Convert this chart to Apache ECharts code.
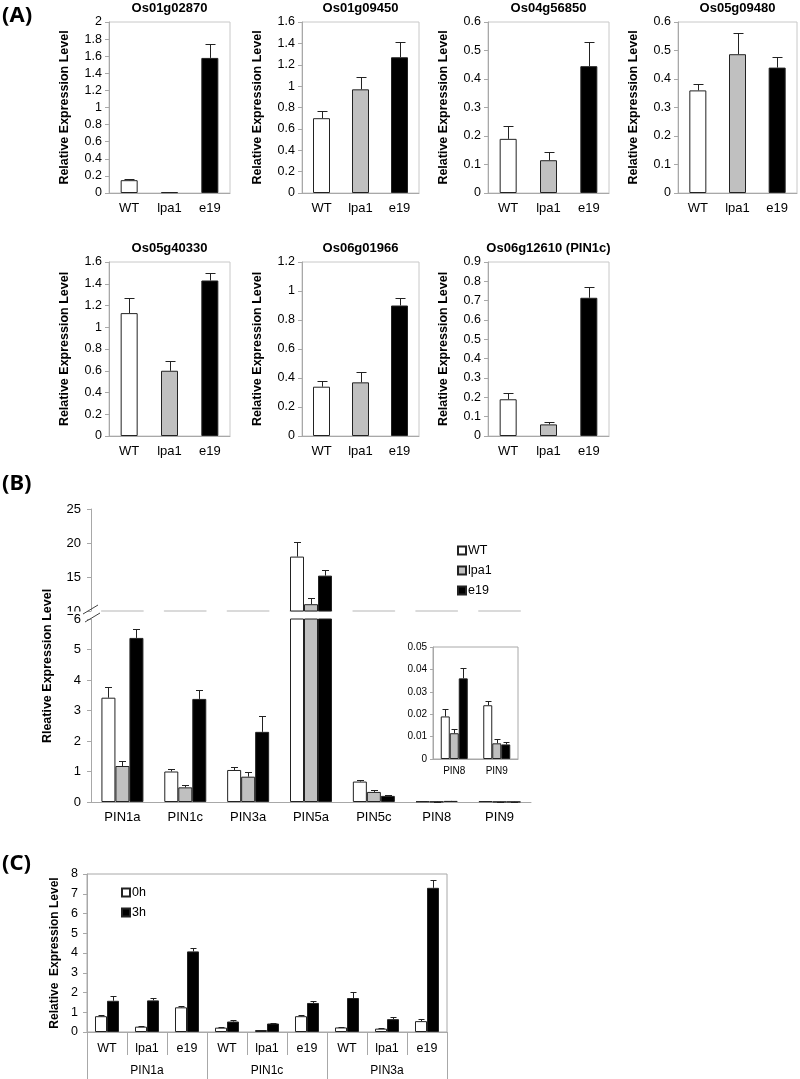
<!DOCTYPE html>
<html><head><meta charset="utf-8">
<script src="https://cdn.jsdelivr.net/npm/echarts@6/dist/echarts.min.js"></script>
<style>html,body{margin:0;padding:0;background:#fff}#c{width:800px;height:1079px}</style>
</head><body><div id="c"></div><script>
// ---------------- data ----------------
const lines = ['WT', 'lpa1', 'e19'];
const geneTitles = ['Os01g02870', 'Os01g09450', 'Os04g56850', 'Os05g09480', 'Os05g40330', 'Os06g01966', 'Os06g12610 (PIN1c)'];
const geneMean = [
  [0.15, 0.01, 1.58],
  [0.70, 0.97, 1.27],
  [0.19, 0.115, 0.445],
  [0.36, 0.487, 0.44],
  [1.13, 0.60, 1.43],
  [0.34, 0.37, 0.90],
  [0.19, 0.06, 0.715]
];
const geneErr = [
  [0.015, 0.005, 0.16],
  [0.07, 0.12, 0.14],
  [0.045, 0.03, 0.085],
  [0.023, 0.073, 0.037],
  [0.14, 0.09, 0.07],
  [0.04, 0.07, 0.055],
  [0.03, 0.012, 0.055]
];
const geneYMax = [2, 1.6, 0.6, 0.6, 1.6, 1.2, 0.9];
const geneYStep = [0.2, 0.2, 0.1, 0.1, 0.2, 0.2, 0.1];

const pins = ['PIN1a', 'PIN1c', 'PIN3a', 'PIN5a', 'PIN5c', 'PIN8', 'PIN9'];
const pinWT = [3.42, 1.00, 1.05, 18.0, 0.67, 0.019, 0.024];
const pinWTErr = [0.34, 0.08, 0.09, 2.2, 0.06, 0.0035, 0.0018];
const pinLpa1 = [1.18, 0.48, 0.83, 11.0, 0.33, 0.0115, 0.007];
const pinLpa1Err = [0.17, 0.08, 0.15, 0.9, 0.05, 0.002, 0.0018];
const pinE19 = [5.38, 3.38, 2.30, 15.2, 0.20, 0.036, 0.0065];
const pinE19Err = [0.28, 0.28, 0.52, 0.8, 0.015, 0.0045, 0.0013];
const insetFrom = 5; // PIN8, PIN9 shown in the inset

const hormoneGenes = ['PIN1a', 'PIN1c', 'PIN3a'];
const timeNames = ['0h', '3h'];
const h0 = [0.80, 0.27, 1.25, 0.22, 0.10, 0.80, 0.23, 0.17, 0.55];
const h0Err = [0.07, 0.03, 0.05, 0.03, 0.02, 0.05, 0.03, 0.03, 0.10];
const h3 = [1.58, 1.60, 4.08, 0.53, 0.43, 1.47, 1.72, 0.65, 7.30];
const h3Err = [0.22, 0.12, 0.19, 0.07, 0.03, 0.08, 0.31, 0.12, 0.40];

// ---------------- styles / layout ----------------
const FF = 'Liberation Sans, Arial, sans-serif';
const fills = ['#ffffff', '#c0c0c0', '#000000'];
const EDGE = '#222';
const AX = '#a8a8a8';
const grids = [], xAxes = [], yAxes = [], series = [], graphic = [];

function errSeries(xi, yi, means, errs, offset, cap, keep) {
  const data = [];
  means.forEach((m, i) => { if (keep(m)) data.push([i, m, errs[i]]); });
  return {
    type: 'custom', xAxisIndex: xi, yAxisIndex: yi, z: 5, silent: true,
    encode: { x: 0, y: 1 }, data,
    renderItem(params, api) {
      const c = api.value(0), v = api.value(1), e = api.value(2);
      const b = api.coord([c, v]), t = api.coord([c, v + e]);
      const x = Math.round(b[0] + offset) + 0.5;
      const ty = Math.round(t[1]) + 0.5;
      return { type: 'group', children: [
        { type: 'line', shape: { x1: x, y1: b[1], x2: x, y2: ty }, style: { stroke: '#222', lineWidth: 1 } },
        { type: 'line', shape: { x1: x - cap, y1: ty, x2: x + cap, y2: ty }, style: { stroke: '#222', lineWidth: 1 } }
      ] };
    }
  };
}

// ---------------- Panel A ----------------
const colLeft = [109, 302, 488, 678];
const colW = [121, 117, 121, 119];
const rowTop = [22, 262];
const rowH = [171, 174];
geneTitles.forEach((title, k) => {
  const col = k < 4 ? k : k - 4, row = k < 4 ? 0 : 1;
  const gi = grids.length;
  grids.push({ left: colLeft[col], top: rowTop[row], width: colW[col], height: rowH[row],
    show: true, borderColor: '#c8c8c8', borderWidth: 1, backgroundColor: 'transparent' });
  const xi = xAxes.length;
  xAxes.push({ type: 'category', gridIndex: gi, data: lines,
    axisLine: { lineStyle: { color: AX } },
    axisTick: { inside: true, length: 3, lineStyle: { color: AX } },
    axisLabel: { color: '#000', fontSize: 13, fontFamily: FF, margin: 9 } });
  const yi = yAxes.length;
  yAxes.push({ type: 'value', gridIndex: gi, min: 0, max: geneYMax[k], interval: geneYStep[k],
    axisLine: { show: true, lineStyle: { color: AX } },
    axisTick: { show: true, length: 4, lineStyle: { color: AX } },
    splitLine: { show: false },
    axisLabel: { color: '#000', fontSize: 12.5, fontFamily: FF, margin: 7 },
    name: 'Relative Expression Level', nameLocation: 'middle', nameGap: 38,
    nameTextStyle: { fontWeight: 'bold', fontSize: 12.5, fontFamily: FF, color: '#000' } });
  series.push({ type: 'bar', name: 'A' + k, xAxisIndex: xi, yAxisIndex: yi, barWidth: 17,
    itemStyle: { borderColor: EDGE, borderWidth: 1 },
    data: geneMean[k].map((v, i) => ({ value: v, itemStyle: { color: fills[i] } })) });
  series.push(errSeries(xi, yi, geneMean[k], geneErr[k], 0, 5, () => true));
  graphic.push({ type: 'text', x: colLeft[col] + colW[col] / 2, y: rowTop[row] - 14,
    style: { text: title, align: 'center', verticalAlign: 'middle', fontWeight: 'bold', fontSize: 13, fontFamily: FF, fill: '#000' } });
});

// ---------------- Panel B ----------------
const bMeans = [pinWT, pinLpa1, pinE19];
const bErrs = [pinWTErr, pinLpa1Err, pinE19Err];
const BW = 14;
// lower grid (0-6)
const gLow = grids.length;
grids.push({ left: 91, top: 619, width: 440, height: 183 });
const xLow = xAxes.length;
xAxes.push({ type: 'category', gridIndex: gLow, data: pins,
  axisLine: { lineStyle: { color: AX } },
  axisTick: { inside: true, length: 4, lineStyle: { color: AX } },
  axisLabel: { color: '#000', fontSize: 13, fontFamily: FF, margin: 9 } });
const yLow = yAxes.length;
yAxes.push({ type: 'value', gridIndex: gLow, min: 0, max: 6, interval: 1,
  axisLine: { show: true, lineStyle: { color: AX } },
  axisTick: { show: true, length: 4, lineStyle: { color: AX } },
  splitLine: { show: false },
  axisLabel: { color: '#000', fontSize: 13, fontFamily: FF, margin: 10 } });
// upper grid (10-25)
const gUp = grids.length;
grids.push({ left: 91, top: 509, width: 440, height: 102 });
const xUp = xAxes.length;
xAxes.push({ type: 'category', gridIndex: gUp, data: pins,
  axisLine: { lineStyle: { color: '#dadada', width: 2, type: [41, 21.86], dashOffset: 52 } },
  axisTick: { show: false }, axisLabel: { show: false } });
const yUp = yAxes.length;
yAxes.push({ type: 'value', gridIndex: gUp, min: 10, max: 25, interval: 5,
  axisLine: { show: true, lineStyle: { color: AX } },
  axisTick: { show: true, length: 4, lineStyle: { color: AX } },
  splitLine: { show: false },
  axisLabel: { color: '#000', fontSize: 13, fontFamily: FF, margin: 10 } });
// inset grid (PIN8, PIN9)
const gIn = grids.length;
grids.push({ left: 433, top: 647, width: 85, height: 112, show: true, borderColor: '#a8a8a8', borderWidth: 1, backgroundColor: '#fff' });
const xIn = xAxes.length;
xAxes.push({ type: 'category', gridIndex: gIn, data: pins.slice(insetFrom),
  axisLine: { lineStyle: { color: AX } },
  axisTick: { inside: true, length: 3, lineStyle: { color: AX } },
  axisLabel: { color: '#000', fontSize: 10, fontFamily: FF, margin: 7 } });
const yIn = yAxes.length;
yAxes.push({ type: 'value', gridIndex: gIn, min: 0, max: 0.05, interval: 0.01,
  axisLine: { show: true, lineStyle: { color: AX } },
  axisTick: { show: true, length: 3, lineStyle: { color: AX } },
  splitLine: { show: false },
  axisLabel: { color: '#000', fontSize: 10, fontFamily: FF, margin: 6 } });

lines.forEach((name, s) => {
  series.push({ type: 'bar', name, xAxisIndex: xLow, yAxisIndex: yLow, barWidth: BW, barGap: '0%',
    clip: true, itemStyle: { color: fills[s], borderColor: EDGE, borderWidth: 1 }, data: bMeans[s] });
});
lines.forEach((name, s) => {
  series.push({ type: 'bar', name, xAxisIndex: xUp, yAxisIndex: yUp, barWidth: BW, barGap: '0%',
    clip: true, itemStyle: { color: fills[s], borderColor: EDGE, borderWidth: 1 },
    data: bMeans[s].map(v => (v > 10 ? v : '-')) });
  series.push({ type: 'bar', name, xAxisIndex: xIn, yAxisIndex: yIn, barWidth: 9, barGap: '0%',
    itemStyle: { color: fills[s], borderColor: EDGE, borderWidth: 1 }, data: bMeans[s].slice(insetFrom) });
});
lines.forEach((name, s) => {
  series.push(errSeries(xLow, yLow, bMeans[s], bErrs[s], (s - 1) * BW, 3.5, m => m < 6));
  series.push(errSeries(xUp, yUp, bMeans[s], bErrs[s], (s - 1) * BW, 3.5, m => m > 10));
  series.push(errSeries(xIn, yIn, bMeans[s].slice(insetFrom), bErrs[s].slice(insetFrom), (s - 1) * 9, 3, () => true));
});

// ---------------- Panel C ----------------
const gC = grids.length;
grids.push({ left: 87, top: 874, width: 360, height: 158, show: true, borderColor: '#a8a8a8', borderWidth: 1 });
const cInner = [];
hormoneGenes.forEach(() => lines.forEach(l => cInner.push(l)));
const xCi = xAxes.length;
xAxes.push({ type: 'category', gridIndex: gC, data: cInner, position: 'bottom',
  axisLine: { lineStyle: { color: AX } },
  axisTick: { show: true, length: 23, lineStyle: { color: AX } },
  axisLabel: { color: '#000', fontSize: 12.5, fontFamily: FF, margin: 10 } });
const xCo = xAxes.length;
xAxes.push({ type: 'category', gridIndex: gC, data: hormoneGenes, position: 'bottom', offset: 0,
  axisLine: { show: false },
  axisTick: { show: true, length: 47, lineStyle: { color: AX } },
  axisLabel: { color: '#000', fontSize: 12, fontFamily: FF, margin: 33 } });
const yC = yAxes.length;
yAxes.push({ type: 'value', gridIndex: gC, min: 0, max: 8, interval: 1,
  axisLine: { show: true, lineStyle: { color: AX } },
  axisTick: { show: true, length: 4, lineStyle: { color: AX } },
  splitLine: { show: false },
  axisLabel: { color: '#000', fontSize: 12.5, fontFamily: FF, margin: 9 },
  name: 'Relative  Expression Level', nameLocation: 'middle', nameGap: 26,
  nameTextStyle: { fontWeight: 'bold', fontSize: 12, fontFamily: FF, color: '#000' } });
const cMeans = [h0, h3], cErrs = [h0Err, h3Err];
const CW = 12;
timeNames.forEach((name, s) => {
  series.push({ type: 'bar', name, xAxisIndex: xCi, yAxisIndex: yC, barWidth: CW, barGap: '0%',
    itemStyle: { color: s === 0 ? '#fff' : '#000', borderColor: EDGE, borderWidth: 1 }, data: cMeans[s] });
});
timeNames.forEach((name, s) => {
  series.push(errSeries(xCi, yC, cMeans[s], cErrs[s], (s - 0.5) * CW, 3, () => true));
});

// ---------------- decorations ----------------
const panelFont = { fontWeight: 'bold', fontSize: 22, fontFamily: 'Noto Sans, sans-serif', fill: '#000' };
graphic.push({ type: 'text', x: 2, y: 16, style: Object.assign({ text: '(A)', verticalAlign: 'middle' }, panelFont) });
graphic.push({ type: 'text', x: 2, y: 484, style: Object.assign({ text: '(B)', verticalAlign: 'middle' }, panelFont) });
graphic.push({ type: 'text', x: 2, y: 864, style: Object.assign({ text: '(C)', verticalAlign: 'middle' }, panelFont) });
graphic.push({ type: 'text', x: 48, y: 666, rotation: Math.PI / 2,
  style: { text: 'Rleative Expression Level', align: 'center', verticalAlign: 'middle', fontWeight: 'bold', fontSize: 12.5, fontFamily: FF, fill: '#000' } });
// axis break
graphic.push({ type: 'rect', shape: { x: 55, y: 611.5, width: 26, height: 2.5 }, style: { fill: '#fff' }, z: 100 });
graphic.push({ type: 'line', shape: { x1: 83, y1: 614, x2: 98, y2: 605 }, style: { stroke: '#444', lineWidth: 1 }, z: 100 });
graphic.push({ type: 'line', shape: { x1: 85, y1: 622, x2: 100, y2: 613 }, style: { stroke: '#444', lineWidth: 1 }, z: 100 });

const chart = echarts.init(document.getElementById('c'), null, { renderer: 'canvas' });
chart.setOption({
  backgroundColor: '#fff',
  animation: false,
  textStyle: { fontFamily: FF },
  grid: grids, xAxis: xAxes, yAxis: yAxes, series, graphic,
  legend: [
    { data: lines, left: 452, top: 539, orient: 'vertical', icon: 'rect', itemWidth: 8, itemHeight: 8, itemGap: 7,
      selectedMode: false, textStyle: { fontSize: 12.5, color: '#000', fontFamily: FF, padding: [0, 0, 0, -3] } },
    { data: timeNames, left: 116, top: 881, orient: 'vertical', icon: 'rect', itemWidth: 8, itemHeight: 8, itemGap: 7,
      selectedMode: false, textStyle: { fontSize: 12.5, color: '#000', fontFamily: FF, padding: [0, 0, 0, -3] } }
  ]
});
</script></body></html>
